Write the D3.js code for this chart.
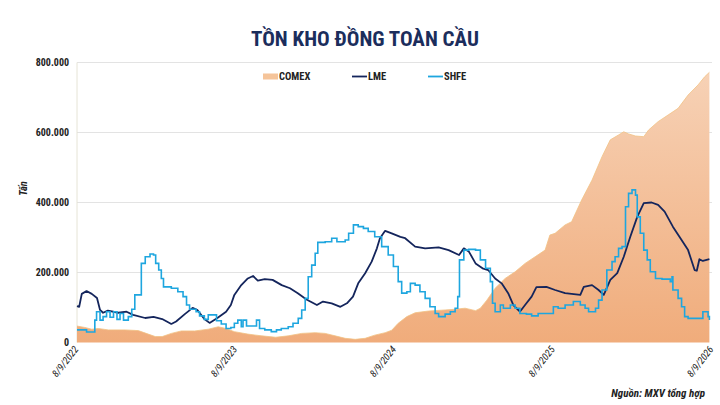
<!DOCTYPE html>
<html>
<head>
<meta charset="utf-8">
<script src="https://cdn.jsdelivr.net/npm/d3@7"></script>
<style>
  body { margin: 0; background: #fff; }
  svg { display: block; }
  text { font-family: "Liberation Sans Narrow", "Roboto Condensed", "DejaVu Sans Condensed", sans-serif; }
</style>
</head>
<body>
<div id="wrapper"></div>
<script>
// data (nghìn tấn)
const comexDates = ["2022-08-09","2022-08-27","2022-09-12","2022-09-27","2022-10-20","2022-11-28","2022-12-28","2023-01-20","2023-02-05","2023-02-21","2023-03-14","2023-04-06","2023-05-07","2023-06-07","2023-06-30","2023-07-18","2023-08-06","2023-09-06","2023-10-08","2023-11-09","2023-12-08","2024-01-08","2024-02-08","2024-03-02","2024-03-25","2024-04-17","2024-05-10","2024-06-02","2024-06-24","2024-07-18","2024-08-02","2024-08-17","2024-09-06","2024-09-25","2024-10-26","2024-12-03","2024-12-26","2025-01-18","2025-02-11","2025-02-22","2025-03-09","2025-03-28","2025-04-20","2025-05-13","2025-06-05","2025-06-28","2025-07-21","2025-08-01","2025-08-13","2025-09-05","2025-09-20","2025-10-13","2025-11-06","2025-11-29","2025-12-18","2026-01-06","2026-01-18","2026-01-29","2026-02-14","2026-03-05","2026-03-16","2026-04-07","2026-04-30","2026-05-23","2026-06-15","2026-07-08","2026-07-23","2026-08-03"];
const comexValues = [47,43,38,40,36,36,34,24,17,17,26,33,33,38,45,40,31,24,19,15,19,26,28,26,19,12,9,12,21,28,35,55,74,85,90,93,95,98,91,98,121,155,183,202,226,245,264,307,312,336,345,407,464,531,579,593,602,596,590,588,607,631,650,669,707,736,759,772];

const lmeDates = ["2022-08-09","2022-08-14","2022-08-20","2022-08-31","2022-09-12","2022-09-24","2022-10-01","2022-10-08","2022-10-19","2022-11-12","2022-12-01","2022-12-16","2023-01-13","2023-02-01","2023-02-21","2023-03-14","2023-03-25","2023-04-14","2023-05-02","2023-05-13","2023-05-29","2023-06-10","2023-06-28","2023-07-18","2023-07-29","2023-08-06","2023-08-22","2023-09-06","2023-09-18","2023-09-29","2023-10-15","2023-11-02","2023-11-23","2023-12-12","2023-12-30","2024-01-19","2024-02-12","2024-02-26","2024-03-17","2024-04-06","2024-04-21","2024-05-05","2024-05-17","2024-06-02","2024-06-17","2024-06-29","2024-07-06","2024-07-18","2024-08-02","2024-08-22","2024-09-02","2024-09-25","2024-10-18","2024-11-18","2024-12-11","2025-01-04","2025-01-15","2025-01-27","2025-02-11","2025-02-27","2025-03-12","2025-03-28","2025-04-12","2025-04-27","2025-05-09","2025-05-24","2025-06-08","2025-06-20","2025-07-01","2025-07-24","2025-08-13","2025-09-05","2025-10-10","2025-10-18","2025-11-06","2025-11-21","2025-12-03","2025-12-18","2026-01-03","2026-01-18","2026-02-02","2026-02-18","2026-03-05","2026-03-23","2026-04-07","2026-04-22","2026-05-11","2026-05-31","2026-06-15","2026-06-30","2026-07-05","2026-07-11","2026-07-19","2026-08-03"];
const lmeValues = [104,102,139,147,139,127,93,85,91,85,88,79,70,73,67,53,60,81,99,93,67,56,70,88,107,136,164,183,190,177,181,179,164,155,141,123,107,117,112,102,112,131,169,198,231,269,298,319,312,302,298,274,269,272,264,250,269,259,226,212,207,183,169,141,107,88,112,131,158,159,150,141,136,159,164,150,136,179,198,245,302,359,398,400,393,374,331,293,264,207,205,238,233,238];

const shfeDates = ["2022-08-09","2022-08-31","2022-09-19","2022-09-23","2022-10-01","2022-10-08","2022-10-16","2022-10-24","2022-11-01","2022-11-09","2022-11-16","2022-11-24","2022-12-05","2022-12-13","2022-12-20","2023-01-04","2023-01-13","2023-01-24","2023-02-01","2023-02-06","2023-02-13","2023-02-19","2023-02-24","2023-03-14","2023-03-29","2023-04-10","2023-04-18","2023-04-25","2023-05-10","2023-05-18","2023-05-29","2023-06-07","2023-06-26","2023-07-07","2023-07-18","2023-07-29","2023-08-06","2023-08-14","2023-08-22","2023-08-26","2023-09-03","2023-09-26","2023-10-03","2023-10-15","2023-10-30","2023-11-11","2023-11-22","2023-12-08","2023-12-19","2023-12-31","2024-01-08","2024-01-16","2024-01-23","2024-01-31","2024-02-08","2024-02-14","2024-03-02","2024-03-17","2024-03-29","2024-04-17","2024-04-25","2024-05-06","2024-05-17","2024-05-29","2024-06-09","2024-06-24","2024-07-10","2024-07-25","2024-08-06","2024-08-17","2024-08-25","2024-09-06","2024-09-14","2024-09-25","2024-10-06","2024-10-18","2024-10-29","2024-11-10","2024-11-18","2024-12-03","2024-12-15","2024-12-26","2025-01-01","2025-01-05","2025-01-15","2025-01-26","2025-02-11","2025-02-22","2025-03-06","2025-03-17","2025-03-22","2025-03-28","2025-04-09","2025-04-16","2025-05-02","2025-05-13","2025-05-24","2025-06-08","2025-06-20","2025-07-05","2025-08-09","2025-08-20","2025-09-05","2025-09-24","2025-10-10","2025-10-21","2025-10-29","2025-11-14","2025-11-21","2025-11-29","2025-12-10","2025-12-22","2025-12-29","2026-01-06","2026-01-14","2026-01-22","2026-01-29","2026-02-06","2026-02-14","2026-02-18","2026-02-25","2026-03-05","2026-03-13","2026-03-20","2026-04-01","2026-04-16","2026-05-05","2026-05-09","2026-05-11","2026-05-23","2026-05-31","2026-06-07","2026-06-15","2026-07-14","2026-07-19","2026-07-31","2026-08-03"];
const shfeValues = [36,30,64,88,64,74,88,72,88,66,83,64,74,95,136,226,245,253,250,226,207,183,159,155,145,131,107,95,88,76,66,79,62,53,40,43,55,64,45,64,47,64,40,36,31,36,40,45,55,69,93,126,188,221,255,286,288,298,288,293,312,336,331,326,317,302,274,250,217,174,141,145,169,164,145,126,102,83,74,81,88,98,131,236,264,266,264,236,212,174,112,88,107,98,107,98,83,81,76,83,102,98,107,117,107,98,88,98,121,150,207,231,245,269,274,388,426,436,421,359,312,264,236,202,183,181,174,188,150,126,102,74,69,69,88,74,64,64];

const seriesNames = ["COMEX", "LME", "SHFE"];
const yTicks = [0, 200, 400, 600, 800];
const xTicks = ["2022-08-09", "2023-08-09", "2024-08-09", "2025-08-09", "2026-08-09"];

const parse = d3.timeParse("%Y-%m-%d");
const comex = comexDates.map((d, i) => ({ date: parse(d), value: comexValues[i] }));
const lme = lmeDates.map((d, i) => ({ date: parse(d), value: lmeValues[i] }));
const shfe = shfeDates.map((d, i) => ({ date: parse(d), value: shfeValues[i] }));

// dimensions
const width = 720;
const height = 405;
const margin = { top: 62.5, right: 8, bottom: 62.5, left: 77 };

const svg = d3
  .select("#wrapper")
  .append("svg")
  .attr("width", width)
  .attr("height", height);

const x = d3
  .scaleTime()
  .domain([parse(xTicks[0]), parse(xTicks[xTicks.length - 1])])
  .range([margin.left, width - margin.right]);

const y = d3
  .scaleLinear()
  .domain([0, 800])
  .range([height - margin.bottom, margin.top]);

const vn = d3.formatLocale({ decimal: ",", thousands: ".", grouping: [3], currency: ["", ""] });
const fmt = vn.format(",");

// gradient for COMEX
const grad = svg
  .append("defs")
  .append("linearGradient")
  .attr("id", "comexFill")
  .attr("gradientUnits", "userSpaceOnUse")
  .attr("x1", 0).attr("x2", 0)
  .attr("y1", y(800)).attr("y2", y(0));
grad.append("stop").attr("offset", "0%").attr("stop-color", "#f7d3b8");
grad.append("stop").attr("offset", "100%").attr("stop-color", "#f0ac7b");

// title
svg
  .append("text")
  .attr("x", 365)
  .attr("y", 46)
  .attr("text-anchor", "middle")
  .attr("fill", "#1b2d5c")
  .attr("font-size", 21)
  .attr("font-weight", "bold")
  .text("TỒN KHO ĐỒNG TOÀN CẦU");

// grid
svg
  .append("g")
  .selectAll("line")
  .data(yTicks.slice(1))
  .join("line")
  .attr("x1", margin.left)
  .attr("x2", width - margin.right)
  .attr("y1", (d) => y(d))
  .attr("y2", (d) => y(d))
  .attr("stroke", "#e3e3e3")
  .attr("stroke-width", 1);

svg
  .append("line")
  .attr("x1", margin.left)
  .attr("x2", margin.left)
  .attr("y1", y(800))
  .attr("y2", y(0))
  .attr("stroke", "#e6e4d6")
  .attr("stroke-width", 1);

// y labels
svg
  .append("g")
  .selectAll("text")
  .data(yTicks)
  .join("text")
  .attr("x", 69)
  .attr("y", (d) => y(d) + 3.5)
  .attr("text-anchor", "end")
  .attr("font-size", 10)
  .attr("font-weight", "bold")
  .attr("fill", "#222")
  .text((d) => fmt(d * 1000));

svg
  .append("text")
  .attr("transform", `translate(27,${y(400) - 14}) rotate(-90)`)
  .attr("text-anchor", "middle")
  .attr("font-size", 10.5)
  .attr("font-weight", "bold")
  .attr("font-style", "italic")
  .attr("fill", "#222")
  .text("Tấn");

// x labels
const xFmt = d3.timeFormat("%-m/%-d/%Y");
svg
  .append("g")
  .selectAll("text")
  .data(xTicks)
  .join("text")
  .attr("transform", (d) => `translate(${x(parse(d)) + 2},${y(0) + 7}) rotate(-52)`)
  .attr("text-anchor", "end")
  .attr("font-size", 10)
  .attr("font-style", "italic")
  .attr("fill", "#222")
  .text((d) => xFmt(parse(d)));

// COMEX area
const area = d3
  .area()
  .x((d) => x(d.date))
  .y0(y(0))
  .y1((d) => y(d.value));

svg
  .append("path")
  .datum(comex)
  .attr("fill", "url(#comexFill)")
  .attr("d", area);

svg
  .append("path")
  .datum(comex)
  .attr("fill", "none")
  .attr("stroke", "#f1c184")
  .attr("stroke-width", 0.8)
  .attr("d", d3.line().x((d) => x(d.date)).y((d) => y(d.value)));

// LME
svg
  .append("path")
  .datum(lme)
  .attr("fill", "none")
  .attr("stroke", "#14255c")
  .attr("stroke-width", 1.8)
  .attr("stroke-linejoin", "round")
  .attr("d", d3.line().x((d) => x(d.date)).y((d) => y(d.value)));

// SHFE
svg
  .append("path")
  .datum(shfe)
  .attr("fill", "none")
  .attr("stroke", "#1ea6df")
  .attr("stroke-width", 1.6)
  .attr("d", d3.line().x((d) => x(d.date)).y((d) => y(d.value)).curve(d3.curveStepAfter));

// legend
const legendX = [263, 352, 428];
const legend = svg
  .append("g")
  .selectAll("g")
  .data(seriesNames)
  .join("g")
  .attr("transform", (d, i) => `translate(${legendX[i]},76.5)`);

legend
  .filter((d) => d === "COMEX")
  .append("rect")
  .attr("x", 0)
  .attr("y", -3)
  .attr("width", 15)
  .attr("height", 6)
  .attr("fill", "#f5c49a");

legend
  .filter((d) => d !== "COMEX")
  .append("line")
  .attr("x1", 0)
  .attr("x2", 15)
  .attr("stroke", (d) => (d === "LME" ? "#14255c" : "#1ea6df"))
  .attr("stroke-width", 1.8);

legend
  .append("text")
  .attr("x", 16)
  .attr("y", 3.5)
  .attr("font-size", 10.5)
  .attr("font-weight", "bold")
  .attr("fill", "#222")
  .text((d) => d);

// source
svg
  .append("text")
  .attr("x", 705)
  .attr("y", 397)
  .attr("text-anchor", "end")
  .attr("font-size", 11)
  .attr("font-weight", "bold")
  .attr("font-style", "italic")
  .attr("fill", "#222")
  .text("Nguồn: MXV tổng hợp");
</script>
</body>
</html>
